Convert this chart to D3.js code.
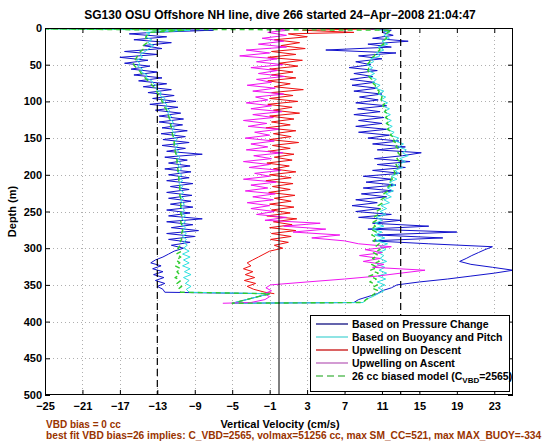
<!DOCTYPE html>
<html><head><meta charset="utf-8">
<script src="https://cdn.jsdelivr.net/npm/d3@7"></script>
<style>
body{margin:0;background:#fff}
svg{display:block}
text{font-family:"Liberation Sans",Arial,Helvetica,sans-serif}
</style>
</head><body>
<svg id="c" width="560" height="442"></svg>
<script>
// ---------------- DATA ----------------
const xTicks = [-25,-21,-17,-13,-9,-5,-1,3,7,11,15,19,23];
const yTicks = [0,50,100,150,200,250,300,350,400,450,500];
const limitLines = [-13, 13];

const descentDepth = [1,3,6,8,12,16,20,24,28,32,
 36,40,44,48,52,56,60,64,68,72,
 76,80,84,88,92,96,100,104,108,112,
 116,120,124,128,132,136,140,144,148,152,
 156,160,164,168,172,176,180,184,188,192,
 196,200,204,208,212,216,220,224,228,232,
 236,240,244,248,252,256,260,264,268,272,
 276,280,284,288,292,296,300,304,308,312,
 316,320,324,328,332,336,340,344,348,352,
 356,360,362];

const ascentDepth = [375,374,370,366,362,358,354,350,346,342,
 338,334,330,326,322,318,314,310,306,302,
 298,294,290,286,282,278,274,270,266,262,
 258,254,250,246,242,238,234,230,226,222,
 218,214,210,206,202,198,194,190,186,182,
 178,174,170,166,162,158,154,150,146,142,
 138,134,130,126,122,118,114,110,106,102,
 98,94,90,86,82,78,74,70,66,62,
 58,54,50,46,42,38,34,30,26,22,
 18,14,10,6,3,1];

// Based on Pressure Change (blue)
const wPressureDescent = [-22,-7,-13.5,-16,-12,-15.5,-11.5,-14.5,-12.5,-16.5,
 -13,-17,-14,-16.5,-13.8,-15.8,-13,-15.5,-12.5,-15,
 -12,-14.5,-11.5,-14,-11.2,-13.5,-11,-13.8,-10.8,-13.2,
 -10.5,-12.8,-10.2,-12.8,-10.3,-12.5,-9.8,-12.6,-10,-12.4,
 -9.6,-12.5,-10,-12,-8.2,-12.2,-9.8,-11.8,-9.5,-12.2,
 -9.4,-11.8,-9.6,-12,-9.2,-11.6,-9.6,-12,-9.3,-11.8,
 -9.4,-11.6,-9.2,-12,-9.5,-11.8,-8.2,-12,-9.2,-11.5,
 -8.6,-12,-9,-11.8,-9.5,-11.5,-10.2,-11.2,-11.8,-12.4,
 -13.2,-13.7,-12.6,-13.5,-12.4,-13.4,-12.3,-13.2,-12.2,-13,
 -12.4,-12.2,-1];
const wPressureAscent = [-5,8,8.5,9.5,10.5,11,12,12.6,15,18,
 20.5,23,25,22.8,20.5,19.3,20,20.6,21.3,22,
 22.8,16,10,17.5,10.5,19,9.5,16,10,13,
 8.5,12,8.2,10.8,7.8,10.5,8.2,11.5,8.8,12.2,
 9,12.5,9.3,12,9,13,10,13.5,10.5,14,
 10.2,13.2,15.2,10.5,13.5,10,12.8,9.5,11.8,8.5,
 11.5,8.2,11,8.5,11.2,8,10.8,8.4,11.5,8.2,
 10.6,8.6,11,8,10.5,7.8,10.2,7.6,10,8,
 10.5,7.5,9.8,8.2,11,8.5,12.5,5,12,9.5,
 13.8,10,12.2,11,12,9];

// Based on Buoyancy and Pitch (cyan)
const wBuoyDescent = [-27,-9.5,-14.2,-13.8,-14.3,-13.6,-14,-13.4,-13.9,-14.3,
 -14.8,-14.6,-15.2,-14.9,-15.1,-14.6,-14.7,-14.1,-14.2,-13.6,
 -13.4,-13,-13.1,-12.6,-12.7,-12.2,-12.4,-12,-12.1,-11.7,
 -11.9,-11.5,-11.7,-11.3,-11.5,-11.2,-11.4,-11.1,-11.3,-10.9,
 -11.2,-10.8,-11.1,-10.7,-11,-10.6,-10.9,-10.5,-10.8,-10.4,
 -10.8,-10.4,-10.7,-10.3,-10.7,-10.3,-10.6,-10.2,-10.6,-10.2,
 -10.5,-10.1,-10.5,-10.1,-10.4,-10,-10.4,-10,-10.4,-10,
 -10.3,-9.9,-10.3,-9.9,-10.2,-9.8,-10.2,-9.6,-10.3,-9.5,
 -10.2,-9.6,-10.3,-9.5,-10.1,-9.4,-10.2,-9.6,-10,-9.4,
 -9.9,-9.6,-1];
const wBuoyAscent = [-5,9,9.2,10,10.6,11.2,10.6,11.3,10.5,11.4,
 10.6,11.5,10.7,11.3,10.5,11.5,10.8,11.2,10.6,11.4,
 10.8,11.6,10.4,11.3,10.2,11,10,11.2,10.3,11,
 10.4,11.4,10.8,11.5,10.9,11.8,11.2,12,11.4,12.2,
 11.6,12.4,11.8,12.6,12,12.8,12.4,13.2,12.7,13.5,
 12.9,13.8,13.2,13.6,12.8,13.3,12.4,12.8,11.9,12.3,
 11.5,12.1,11.4,12,11.3,11.9,11.2,11.8,11,11.6,
 10.9,11.4,10.6,11.2,10.3,10.8,10,10.4,9.6,10.2,
 9.5,10,9.4,10.1,9.8,10.8,10.4,11.2,10.6,11.6,
 11,11.8,11.2,11.8,11,10];

// 26 cc biased model (green dashed)
const wModelDescent = [-27,-10,-13.8,-14,-14.2,-14.3,-14.1,-14.5,-14.4,-14.8,
 -15,-15.2,-15.4,-15.6,-15.4,-15.1,-14.8,-14.6,-14.3,-14,
 -13.7,-13.4,-13.2,-13,-12.8,-12.6,-12.5,-12.3,-12.2,-12,
 -11.9,-11.8,-11.7,-11.6,-11.6,-11.5,-11.4,-11.4,-11.3,-11.2,
 -11.2,-11.2,-11.1,-11.1,-11,-11,-10.9,-10.9,-10.9,-10.8,
 -10.8,-10.8,-10.7,-10.7,-10.7,-10.6,-10.6,-10.6,-10.6,-10.5,
 -10.5,-10.5,-10.5,-10.4,-10.5,-10.4,-10.4,-10.5,-10.4,-10.4,
 -10.3,-10.4,-10.5,-10.4,-10.6,-10.5,-10.8,-10.4,-11,-10.5,
 -11,-10.6,-11.1,-10.5,-10.9,-10.6,-11.1,-10.5,-10.9,-10.4,
 -10.8,-10.5,-1];
const wModelAscent = [-5,9,9.3,9.8,10.2,10.6,9.9,10.5,9.7,10.4,
 9.6,10.6,9.8,10.5,9.9,10.7,10,10.6,10.1,10.8,
 10.3,10.7,10.1,10.5,9.9,10.4,9.8,10.3,9.9,10.4,
 10.1,10.6,10.4,10.9,10.6,11.1,10.9,11.4,11.2,11.6,
 11.5,11.9,11.7,12.1,12,12.4,12.3,12.7,12.5,12.9,
 12.6,13,12.7,12.9,12.5,12.7,12.2,12.4,11.9,12.1,
 11.6,11.9,11.5,11.8,11.4,11.7,11.3,11.5,11.1,11.3,
 10.9,11,10.6,10.7,10.3,10.3,9.9,9.9,9.6,9.7,
 9.5,9.6,9.4,9.7,9.7,10.2,10.3,10.8,10.6,11.2,
 11,11.5,11.3,11.6,12,-27];

// Upwelling on Descent (red)
const upwellDescent = [11,2.5,8,1,3,-0.5,2.2,0.2,2.8,-0.8,
 1.8,-1.2,2.5,0,2,-1,1.5,-0.8,1.8,-1.2,
 1.2,-0.5,2.6,-0.8,1.5,-1,2,-1.2,1.4,-0.6,
 2.2,-1,1.6,-0.8,1.2,-1.4,1.8,-0.6,1.3,-1,
 2.1,-0.7,1.2,-1.2,1.6,-0.5,1.4,-1.3,1.1,-0.6,
 1.8,-1,1.3,-1.4,1.5,-0.7,1.2,-1.1,1.7,-0.5,
 1.3,-1,1.6,-0.8,1.2,-1.3,1.9,-0.6,1.4,-1,
 1.8,-0.8,1.3,-0.9,1,-0.5,0.4,-1,-1.6,-2.2,
 -2.8,-3.4,-3,-3.8,-2.8,-3.6,-2.6,-3.7,-2.5,-3.4,
 -2.7,-1.5,-0.5];

// Upwelling on Ascent (magenta)
const upwellAscent = [-6,-3,-1.5,-1,-1.6,-0.8,-1.4,-0.9,3,7,
 10.5,13,15.6,10,11.2,9,10.8,8.6,11,9.2,
 12,8.5,7,3.5,6.5,1.5,5,0.5,4.4,-1.5,
 0.8,-2.4,-0.5,-3,-1,-3.4,-0.6,-2.8,-0.4,-3.6,
 -1.2,-3,-0.3,-3.8,-1,-2.6,0.2,-3.2,-1,-3.8,
 -0.8,-2.7,0.4,-3.5,-1.2,-3,-0.5,-3.6,-1,-2.6,
 0,-3.3,-1.3,-3.8,-0.6,-2.8,0.3,-3,-0.8,-3.5,
 -1.2,-2.5,0.5,-2.8,-0.4,-3.4,-0.8,-2.4,0.6,-2.2,
 -0.2,-3,0.4,-2.4,-0.2,-4.2,-1,-3.5,0.8,-2.2,
 0.5,-1.8,0.8,-1.2,1,-0.5];

const legendLabels = ["Based on Pressure Change","Based on Buoyancy and Pitch",
 "Upwelling on Descent","Upwelling on Ascent","26 cc biased model (C"];
const titleText = "SG130 OSU Offshore NH line, dive 266 started 24\u2212Apr\u22122008 21:04:47";
const xLabel = "Vertical Velocity (cm/s)";
const yLabel = "Depth (m)";
const note1 = "VBD bias = 0 cc";
const note2 = "best fit VBD bias=26 implies: C_VBD=2565, volmax=51256 cc, max SM_CC=521, max MAX_BUOY=-334";

// ---------------- DRAWING ----------------
const L=45, R=513, T=28, B=395;
const svg = d3.select("#c");
svg.append("rect").attr("width",560).attr("height",442).attr("fill","#fff");
const x = d3.scaleLinear().domain([-25,25]).range([L,R]);
const y = d3.scaleLinear().domain([0,500]).range([T,B]);

svg.append("defs").append("clipPath").attr("id","clip")
  .append("rect").attr("x",L).attr("y",T).attr("width",R-L).attr("height",B-T);

// grid
const grid = svg.append("g").attr("stroke","#9a9a9a").attr("stroke-width",0.8).attr("stroke-dasharray","1,3");
grid.selectAll("line.gx").data(xTicks.filter(v=>x(v)>L+1)).join("line").attr("class","gx")
  .attr("x1",d=>Math.round(x(d))+0.5).attr("x2",d=>Math.round(x(d))+0.5).attr("y1",T).attr("y2",B);
grid.selectAll("line.gy").data(yTicks.filter(v=>v>0&&v<500)).join("line").attr("class","gy")
  .attr("y1",d=>Math.round(y(d))+0.5).attr("y2",d=>Math.round(y(d))+0.5).attr("x1",L).attr("x2",R);

const pts = (depths, vals) => depths.map((d,i)=>[d, vals[i]]);
const line = d3.line().x(p=>x(p[1])).y(p=>y(p[0]));

const series = [
  {color:"#1212cc", w:1, dash:null, data: pts(descentDepth,wPressureDescent).concat(pts(ascentDepth,wPressureAscent))},
  {color:"#2ee0e0", w:1, dash:null, data: pts(descentDepth,wBuoyDescent).concat(pts(ascentDepth,wBuoyAscent))},
  {color:"#ee1010", w:1, dash:null, data: pts(descentDepth,upwellDescent)},
  {color:"#f014f0", w:1, dash:null, data: pts(ascentDepth,upwellAscent)},
  {color:"#30cc30", w:1.4, dash:"5,4", data: pts(descentDepth,wModelDescent).concat(pts(ascentDepth,wModelAscent))}
];
const dg = svg.append("g").attr("clip-path","url(#clip)");
series.forEach(s=>{
  dg.append("path").datum(s.data).attr("d",line).attr("fill","none")
    .attr("stroke",s.color).attr("stroke-width",s.w).attr("stroke-dasharray",s.dash)
    .attr("stroke-linejoin","round");
});

// reference lines
svg.selectAll("line.lim").data(limitLines).join("line").attr("class","lim")
  .attr("x1",d=>x(d)).attr("x2",d=>x(d)).attr("y1",T).attr("y2",B)
  .attr("stroke","#000").attr("stroke-width",1.2).attr("stroke-dasharray","7,4");
svg.append("line").attr("x1",x(0)).attr("x2",x(0)).attr("y1",T).attr("y2",B)
  .attr("stroke","#000").attr("stroke-width",1);

// axes
function styleAxis(g){
  g.select(".domain").remove();
  g.attr("font-size",11).attr("font-weight","bold");
  g.selectAll("text").attr("fill","#000");
  g.selectAll("line").attr("stroke","#000");
}
svg.append("g").attr("transform",`translate(0,${B})`)
  .call(d3.axisBottom(x).tickValues(xTicks).tickSize(-5).tickPadding(7)).call(styleAxis);
svg.append("g").attr("transform",`translate(0,${T})`)
  .call(d3.axisTop(x).tickValues(xTicks).tickSize(-5).tickFormat("")).call(styleAxis);
svg.append("g").attr("transform",`translate(${L},0)`)
  .call(d3.axisLeft(y).tickValues(yTicks).tickSize(-5).tickPadding(3)).call(styleAxis);
svg.append("g").attr("transform",`translate(${R},0)`)
  .call(d3.axisRight(y).tickValues(yTicks).tickSize(-5).tickFormat("")).call(styleAxis);
svg.append("rect").attr("x",L+0.5).attr("y",T+0.5).attr("width",R-L-1).attr("height",B-T-1)
  .attr("fill","none").attr("stroke","#000").attr("stroke-width",1);

// legend
const lg = svg.append("g");
lg.append("rect").attr("x",310.5).attr("y",315.5).attr("width",199).attr("height",76)
  .attr("fill","#fff").attr("stroke","#000").attr("stroke-width",1);
const legendColors = ["#22228a","#5fd8d8","#cc2020","#c070c0","#60c060"];
legendLabels.forEach((lab,i)=>{
  const yy = 324 + i*13;
  lg.append("line").attr("x1",316).attr("x2",348).attr("y1",yy).attr("y2",yy)
    .attr("stroke",legendColors[i]).attr("stroke-width",i===4?1.6:1.4)
    .attr("stroke-dasharray",i===4?"7,4":null);
  const t = lg.append("text").attr("x",352).attr("y",yy+4).attr("font-size",10.5)
    .attr("font-weight","bold").text(lab);
  if(i===4){
    t.append("tspan").attr("font-size",8).attr("dy",3).text("VBD");
    t.append("tspan").attr("dy",-3).text("=2565)");
  }
});

// texts
svg.append("text").attr("x",280).attr("y",19).attr("text-anchor","middle")
  .attr("font-size",12).attr("font-weight","bold").text(titleText);
svg.append("text").attr("x",280).attr("y",428).attr("text-anchor","middle")
  .attr("font-size",11).attr("font-weight","bold").text(xLabel);
svg.append("text").attr("transform",`translate(16,${(T+B)/2}) rotate(-90)`).attr("text-anchor","middle")
  .attr("font-size",11).attr("font-weight","bold").text(yLabel);
svg.append("text").attr("x",46).attr("y",428).attr("font-size",10).attr("font-weight","bold")
  .attr("fill","#993300").text(note1);
svg.append("text").attr("x",46).attr("y",439).attr("font-size",10.2).attr("font-weight","bold")
  .attr("fill","#993300").text(note2);
</script>
</body></html>
